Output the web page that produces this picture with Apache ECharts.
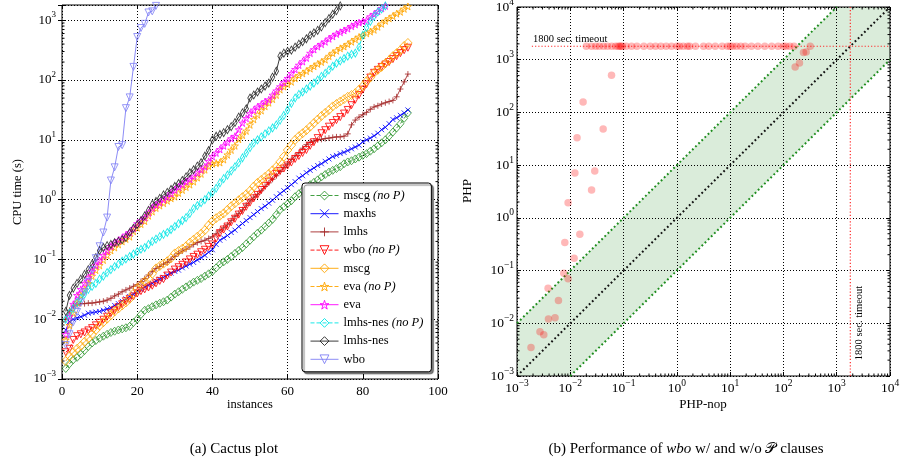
<!DOCTYPE html>
<html>
<head>
<meta charset="utf-8">
<script src="https://cdn.jsdelivr.net/npm/echarts@6/dist/echarts.min.js"></script>
<style>
  html, body { margin: 0; padding: 0; background: #fff; }
  #main { width: 900px; height: 463px; }
</style>
</head>
<body>
<div id="main"></div>
<script>
// ---------- (a) cactus plot: CPU time (s) of each solved instance, sorted ----------
const solverNames = ['mscg (no P)', 'maxhs', 'lmhs', 'wbo (no P)', 'mscg',
                     'eva (no P)', 'eva', 'lmhs-nes (no P)', 'lmhs-nes', 'wbo'];

const mscgNoP = [0.0015,0.0018,0.0021,0.0023,0.0026,0.0030,0.0035,0.0040,0.0044,0.0048,
  0.0052,0.0056,0.0060,0.0063,0.0066,0.0069,0.0072,0.0076,0.0088,0.0100,
  0.0120,0.0141,0.0150,0.0162,0.0174,0.0185,0.0196,0.0209,0.0234,0.0263,
  0.0288,0.0316,0.0347,0.0380,0.0417,0.0447,0.0479,0.0525,0.0575,0.0631,
  0.0724,0.0832,0.0912,0.100,0.112,0.126,0.141,0.158,0.182,0.209,
  0.240,0.275,0.309,0.355,0.407,0.468,0.562,0.676,0.759,0.851,
  0.955,1.12,1.26,1.41,1.58,1.78,1.95,2.14,2.40,2.63,
  2.88,3.09,3.31,3.55,3.98,4.27,4.47,4.79,5.13,5.50,
  5.89,6.46,7.08,7.94,8.91,10.0,11.5,13.5,15.8,18.6,
  22.9,28.2];

const maxhs = [0.0066,0.0091,0.0100,0.0105,0.0110,0.0117,0.0126,0.0129,0.0132,0.0135,
  0.0141,0.0148,0.0155,0.0170,0.0182,0.0200,0.0219,0.0240,0.0263,0.0288,
  0.0316,0.0347,0.0372,0.0398,0.0437,0.0468,0.0501,0.0550,0.0589,0.0631,
  0.0661,0.0724,0.0776,0.0832,0.0891,0.0977,0.107,0.117,0.132,0.145,
  0.178,0.209,0.229,0.251,0.282,0.309,0.355,0.398,0.447,0.501,
  0.562,0.631,0.708,0.776,0.871,0.977,1.12,1.26,1.41,1.58,
  1.78,2.00,2.29,2.51,2.82,3.09,3.39,3.72,3.98,4.37,
  4.79,5.25,5.50,5.89,6.17,6.61,7.08,7.59,8.13,9.33,
  10.0,10.7,11.7,12.9,14.8,16.2,18.6,21.9,23.4,25.7,
  28.2,31.6];

const lmhs = [0.0100,0.0141,0.0166,0.0174,0.0182,0.0182,0.0186,0.0186,0.0191,0.0195,
  0.0200,0.0209,0.0224,0.0245,0.0263,0.0288,0.0309,0.0331,0.0355,0.0380,
  0.0427,0.0479,0.0550,0.0631,0.0708,0.0759,0.0832,0.0891,0.100,0.112,
  0.126,0.138,0.148,0.162,0.178,0.191,0.200,0.209,0.224,0.240,
  0.269,0.302,0.339,0.380,0.447,0.525,0.589,0.676,0.813,0.955,
  1.10,1.23,1.41,1.66,1.91,2.19,2.51,2.95,3.47,3.98,
  4.68,5.37,6.03,7.24,8.32,9.12,9.55,10.0,10.2,10.5,
  10.7,11.0,11.2,11.2,11.5,12.6,17.8,21.4,24.0,26.3,
  28.8,32.4,35.5,37.2,39.8,41.7,43.7,45.7,52.5,70.8,
  93.3,126];

const wboNoP = [0.0028,0.0032,0.0045,0.0052,0.0056,0.0060,0.0065,0.0071,0.0079,0.0087,
  0.0098,0.0110,0.0126,0.0141,0.0158,0.0178,0.0200,0.0219,0.0240,0.0269,
  0.0295,0.0316,0.0339,0.0363,0.0398,0.0437,0.0468,0.0537,0.0603,0.0676,
  0.0741,0.0813,0.0891,0.100,0.110,0.120,0.132,0.145,0.162,0.178,
  0.224,0.275,0.316,0.355,0.417,0.479,0.562,0.646,0.759,0.891,
  1.05,1.20,1.45,1.70,2.00,2.34,2.69,3.02,3.31,3.72,
  4.17,4.79,5.37,6.03,6.76,7.94,9.12,10.7,12.9,14.5,
  16.6,19.1,21.4,24.0,27.5,31.6,38.0,46.8,56.2,69.2,
  85.1,110,132,148,166,182,200,224,251,282,
  316,347];

const mscg = [0.0020,0.0024,0.0028,0.0032,0.0036,0.0042,0.0048,0.0056,0.0066,0.0078,
  0.0089,0.0102,0.0117,0.0135,0.0151,0.0170,0.0191,0.0219,0.0269,0.0331,
  0.0372,0.0427,0.0479,0.0575,0.0708,0.0776,0.0851,0.0933,0.105,0.126,
  0.138,0.151,0.166,0.191,0.214,0.240,0.269,0.309,0.372,0.437,
  0.490,0.537,0.589,0.676,0.776,0.871,0.977,1.10,1.23,1.41,
  1.66,1.91,2.14,2.40,2.69,3.09,3.55,4.27,5.25,6.76,
  8.13,10.0,11.5,12.9,14.5,16.6,19.1,21.9,25.1,28.2,
  31.6,36.3,39.8,43.7,47.9,52.5,56.2,60.3,69.2,79.4,
  95.5,110,132,148,166,191,214,251,282,316,
  372,417];

const evaNoP = [0.0045,0.0079,0.0126,0.0191,0.0251,0.0316,0.0398,0.0525,0.0661,0.0794,
  0.0977,0.117,0.141,0.158,0.178,0.200,0.219,0.240,0.295,0.339,
  0.389,0.437,0.537,0.631,0.724,0.794,0.871,0.955,1.05,1.12,
  1.29,1.45,1.62,1.78,2.00,2.34,2.69,3.16,3.63,3.98,
  4.07,4.17,4.68,5.62,6.76,7.94,10.2,12.0,14.1,17.8,
  21.9,26.3,30.9,36.3,41.7,47.9,56.2,69.2,77.6,85.1,
  93.3,107,120,129,141,155,170,186,200,219,
  251,282,309,339,363,398,437,479,525,562,
  603,646,692,776,871,977,1070,1175,1290,1380,
  1550,1700];

const eva = [0.0056,0.0112,0.0178,0.0251,0.0316,0.0398,0.0501,0.0631,0.0794,0.0955,
  0.117,0.141,0.166,0.191,0.209,0.229,0.257,0.282,0.331,0.398,
  0.447,0.501,0.603,0.724,0.813,0.891,1.00,1.10,1.26,1.45,
  1.62,1.78,2.00,2.19,2.45,2.82,3.16,3.55,4.37,5.25,
  6.03,6.92,7.94,9.12,10.5,11.5,14.8,19.1,22.9,27.5,
  31.6,35.5,38.9,43.7,46.8,56.2,66.1,77.6,91.2,107,
  129,151,178,204,234,282,324,363,398,437,
  490,537,589,631,676,724,794,851,912,955,
  1000,1150,1260,1410,1580,1740];

const lmhsNesNoP = [0.0100,0.0126,0.0151,0.0191,0.0224,0.0263,0.0316,0.0355,0.0398,0.0468,
  0.0525,0.0603,0.0676,0.0759,0.0832,0.0933,0.102,0.112,0.123,0.135,
  0.148,0.158,0.178,0.200,0.219,0.240,0.263,0.282,0.316,0.355,
  0.398,0.447,0.501,0.589,0.708,0.794,0.891,1.00,1.15,1.32,
  1.55,1.91,2.24,2.57,3.02,3.55,4.17,5.01,6.03,7.41,
  8.91,10.0,11.2,12.6,14.1,15.8,17.8,21.4,25.7,31.6,
  40.7,50.1,57.5,63.1,70.8,79.4,89.1,100,115,129,
  148,170,191,209,229,251,269,282,355,562,
  759,955,1170,1380,1550,1740];

const lmhsNes = [0.0135,0.0251,0.0331,0.0398,0.0468,0.0562,0.0676,0.0832,0.107,0.141,
  0.158,0.170,0.178,0.191,0.200,0.214,0.234,0.282,0.331,0.380,
  0.447,0.537,0.661,0.832,0.933,1.05,1.20,1.32,1.48,1.66,
  1.86,2.09,2.40,2.82,3.16,3.63,4.17,5.37,6.61,10.0,
  11.5,12.3,13.2,14.8,16.6,19.5,24.0,28.2,33.1,50.1,
  56.2,63.1,70.8,79.4,89.1,112,141,251,282,302,
  316,355,398,437,490,562,617,676,776,912,
  1070,1260,1450,1740];

const wbo = [0.0037,0.0056,0.0089,0.0132,0.0191,0.0282,0.0417,0.0661,0.105,0.166,
  0.282,0.501,2.09,3.47,7.59,8.13,33.9,51.3,166,525,
  741,871,1350,1410,1740];

const cactusValues = [mscgNoP, maxhs, lmhs, wboNoP, mscg, evaNoP, eva, lmhsNesNoP, lmhsNes, wbo];

// axis ranges of the cactus plot
const instancesRange = [0, 100];
const cpuTimeRange = [0.001, 1800];

// ---------- (b) PHP vs PHP-nop scatter ----------
const phpNop = [0.0594, 0.0174, 0.0414, 0.0134, 0.0122, 0.0288, 0.0251, 0.0091, 0.0151, 0.00789,
  0.0118, 0.00755, 0.0091, 0.00383, 0.0060, 0.00389, 0.00517, 0.0027, 0.00318, 0.00183,
  238, 267, 200, 166];
const php = [508, 158, 48.3, 33.0, 7.08, 7.73, 3.37, 1.94, 0.489, 0.339,
  0.172, 0.089, 0.070, 0.0464, 0.0271, 0.0120, 0.0127, 0.0069, 0.00605, 0.00348,
  1368, 1406, 870, 731];
// instances where PHP hits the time limit
const timeoutNop = [0.020, 0.025, 0.030, 0.035, 0.042, 0.050, 0.060, 0.071, 0.079, 0.085,
  0.089, 0.095, 0.112, 0.141, 0.178, 0.240, 0.316, 0.398, 0.501, 0.631,
  0.794, 1.00, 1.12, 1.32, 1.58, 1.74, 2.24, 3.16, 3.98, 5.25,
  7.08, 8.91, 10.0, 11.2, 13.2, 15.8, 19.1, 25.1, 33.1, 44.7,
  60.3, 79.4, 100, 112, 132, 158, 318];
const timeoutSec = 1800;
const timeoutLineStart = 0.0019;
const timeoutLabelAt = 0.002;
const phpRange = [0.001, 10000];
const bandFactor = 10;

// ---------- styling ----------
const SERIF = '"Liberation Serif", "DejaVu Serif", "Times New Roman", serif';
const SYM = {
  diamond: 'path://M0,-1L1,0L0,1L-1,0Z',
  thinDiamond: 'path://M0,-1L0.6,0L0,1L-0.6,0Z',
  cross: 'path://M-1,-1L1,1M-1,1L1,-1',
  plus: 'path://M-1,0L1,0M0,-1L0,1',
  triDown: 'path://M-1,-0.85L1,-0.85L0,0.9Z',
  star: 'path://M0,-1L0.223,-0.307L0.951,-0.309L0.361,0.117L0.588,0.809L0,0.38L-0.588,0.809L-0.361,0.117L-0.951,-0.309L-0.223,-0.307Z'
};
const solverStyles = [
  { color: '#2e962e', dashed: true,  symbol: SYM.diamond,     size: [7, 8] },
  { color: '#0000ff', dashed: false, symbol: SYM.cross,       size: [5, 5] },
  { color: '#a52a2a', dashed: false, symbol: SYM.plus,        size: [6, 6] },
  { color: '#ff0000', dashed: true,  symbol: SYM.triDown,     size: [7, 7] },
  { color: '#ffa500', dashed: false, symbol: SYM.diamond,     size: [8.5, 9] },
  { color: '#ffa500', dashed: true,  symbol: SYM.star,        size: [7, 7] },
  { color: '#ff00ff', dashed: false, symbol: SYM.star,        size: [7, 7] },
  { color: '#00e5e5', dashed: true,  symbol: SYM.thinDiamond, size: [4.5, 8] },
  { color: '#262626', dashed: false, symbol: SYM.thinDiamond, size: [4.5, 8] },
  { color: '#7f7ff5', dashed: false, symbol: SYM.triDown,     size: [7, 7] }
];
const GRID_DOTS = { color: '#000', width: 1, type: [1, 2] };

function powLabel(v) {
  const e = Math.log10(v);
  const r = Math.round(e);
  if (Math.abs(e - r) > 1e-6) return '';
  return '{b|10}{s|' + (r < 0 ? '\u2212' + (-r) : r) + '}';
}
function powRich(base, sup) {
  return {
    b: { fontFamily: SERIF, fontSize: base, lineHeight: 20, color: '#000' },
    s: { fontFamily: SERIF, fontSize: sup, lineHeight: 10, verticalAlign: 'top', color: '#000' }
  };
}
function minorLogValues(lo, hi) {
  const out = [];
  for (let n = Math.floor(Math.log10(lo)); n <= Math.ceil(Math.log10(hi)); n++) {
    for (let k = 2; k <= 9; k++) {
      const v = k * Math.pow(10, n);
      if (v > lo && v < hi) out.push(v);
    }
  }
  return out;
}
// inward minor ticks on both sides of a log axis
function minorTickSeries(xi, yi, dir, values, otherRange) {
  const L = 2.5;
  return {
    type: 'custom', xAxisIndex: xi, yAxisIndex: yi, silent: true, z: 6, clip: false,
    data: values.map(v => dir === 'x' ? [v, otherRange[0]] : [otherRange[0], v]),
    renderItem(params, api) {
      const v = api.value(dir === 'x' ? 0 : 1);
      const a = api.coord(dir === 'x' ? [v, otherRange[0]] : [otherRange[0], v]);
      const b = api.coord(dir === 'x' ? [v, otherRange[1]] : [otherRange[1], v]);
      const segs = dir === 'x'
        ? [{ x1: a[0], y1: a[1], x2: a[0], y2: a[1] - L }, { x1: b[0], y1: b[1], x2: b[0], y2: b[1] + L }]
        : [{ x1: a[0], y1: a[1], x2: a[0] + L, y2: a[1] }, { x1: b[0], y1: b[1], x2: b[0] - L, y2: b[1] }];
      return { type: 'group', children: segs.map(s => ({ type: 'line', shape: s, style: { stroke: '#000', lineWidth: 1 } })) };
    }
  };
}

const tickIn = { show: true, inside: true, length: 4, lineStyle: { color: '#000', width: 1 } };
const noLabel = { show: false };

const cactusSeries = solverNames.map((name, k) => {
  const st = solverStyles[k];
  return {
    name, type: 'line', xAxisIndex: 0, yAxisIndex: 0,
    data: cactusValues[k].map((v, j) => [j + 1, v]),
    symbol: st.symbol, symbolSize: st.size, showSymbol: true, showAllSymbol: true,
    lineStyle: { color: st.color, width: 1, type: st.dashed ? [4, 2] : 'solid', opacity: 0.9 },
    itemStyle: { color: 'rgba(0,0,0,0)', borderColor: st.color, borderWidth: 0.9, opacity: 0.9 },
    emphasis: { disabled: true }, z: 3
  };
});

const legendData = solverNames.map((name, k) => {
  const st = solverStyles[k];
  return {
    name,
    itemStyle: { color: 'rgba(0,0,0,0)', borderColor: st.color, borderWidth: 1 },
    lineStyle: { color: st.color, width: 1, type: st.dashed ? [4, 2] : 'solid' }
  };
});

const lo = phpRange[0], hi = phpRange[1];
const bandPolygon = [[lo, lo], [lo * bandFactor, lo], [hi, hi / bandFactor], [hi, hi], [hi / bandFactor, hi], [lo, lo * bandFactor]];

const chart = echarts.init(document.getElementById('main'), null, { renderer: 'canvas', width: 900, height: 463 });

chart.setOption({
  animation: false,
  backgroundColor: '#fff',
  textStyle: { fontFamily: SERIF },
  grid: [
    { left: 62, top: 5, width: 376, height: 374, show: true, borderColor: '#000', borderWidth: 1, backgroundColor: 'transparent', outerBoundsMode: 'none', containLabel: false },
    { left: 517, top: 7, width: 373, height: 369, show: true, borderColor: '#000', borderWidth: 1, backgroundColor: 'transparent', outerBoundsMode: 'none', containLabel: false }
  ],
  xAxis: [
    { gridIndex: 0, type: 'value', position: 'bottom', min: instancesRange[0], max: instancesRange[1], interval: 20,
      axisLine: { show: false }, axisTick: tickIn, splitLine: { show: true, lineStyle: GRID_DOTS },
      axisLabel: { fontFamily: SERIF, fontSize: 13, color: '#000', margin: 6 } },
    { gridIndex: 0, type: 'value', position: 'top', min: instancesRange[0], max: instancesRange[1], interval: 20,
      axisLine: { show: false }, axisTick: tickIn, splitLine: { show: false }, axisLabel: noLabel },
    { gridIndex: 1, type: 'log', logBase: 10, position: 'bottom', min: phpRange[0], max: phpRange[1],
      axisLine: { show: false }, axisTick: tickIn, splitLine: { show: true, lineStyle: GRID_DOTS },
      axisLabel: { formatter: powLabel, rich: powRich(13.5, 9.5), margin: 2 } },
    { gridIndex: 1, type: 'log', logBase: 10, position: 'top', min: phpRange[0], max: phpRange[1],
      axisLine: { show: false }, axisTick: tickIn, splitLine: { show: false }, axisLabel: noLabel }
  ],
  yAxis: [
    { gridIndex: 0, type: 'log', logBase: 10, position: 'left', min: cpuTimeRange[0], max: cpuTimeRange[1],
      axisLine: { show: false }, axisTick: tickIn, splitLine: { show: true, lineStyle: GRID_DOTS },
      axisLabel: { formatter: powLabel, rich: powRich(13, 9), margin: 6 } },
    { gridIndex: 0, type: 'log', logBase: 10, position: 'right', min: cpuTimeRange[0], max: cpuTimeRange[1],
      axisLine: { show: false }, axisTick: tickIn, splitLine: { show: false }, axisLabel: noLabel },
    { gridIndex: 1, type: 'log', logBase: 10, position: 'left', min: phpRange[0], max: phpRange[1],
      axisLine: { show: false }, axisTick: tickIn, splitLine: { show: true, lineStyle: GRID_DOTS },
      axisLabel: { formatter: powLabel, rich: powRich(13.5, 9.5), margin: 3 } },
    { gridIndex: 1, type: 'log', logBase: 10, position: 'right', min: phpRange[0], max: phpRange[1],
      axisLine: { show: false }, axisTick: tickIn, splitLine: { show: false }, axisLabel: noLabel }
  ],
  legend: {
    data: legendData,
    orient: 'vertical', left: 302, top: 183,
    padding: [6, 8, 6, 8], itemGap: 5.2, itemWidth: 28, itemHeight: 11,
    selectedMode: false,
    backgroundColor: '#fff', borderColor: '#000', borderWidth: 1, borderRadius: 3,
    shadowColor: 'rgba(0,0,0,0.5)', shadowBlur: 1, shadowOffsetX: 2, shadowOffsetY: 2,
    formatter: name => name.replace('(no P)', '{it|(no P)}'),
    textStyle: { fontFamily: SERIF, fontSize: 12.5, color: '#000',
      rich: { it: { fontFamily: SERIF, fontSize: 12.5, fontStyle: 'italic', color: '#000' } } }
  },
  series: [
    ...cactusSeries,
    minorTickSeries(0, 0, 'y', minorLogValues(cpuTimeRange[0], cpuTimeRange[1]), instancesRange),

    // (b) green band between y = x/10 and y = 10x
    { type: 'custom', xAxisIndex: 2, yAxisIndex: 2, silent: true, z: -1,
      data: [0],
      renderItem(params, api) {
        return { type: 'polygon', shape: { points: bandPolygon.map(p => api.coord(p)) },
                 style: { fill: 'rgba(70,160,70,0.2)' } };
      } },
    { type: 'line', xAxisIndex: 2, yAxisIndex: 2, symbol: 'none', silent: true, z: 3,
      data: [[lo, lo * bandFactor], [hi / bandFactor, hi]],
      lineStyle: { color: '#1d8c1d', width: 2, type: [1.8, 2.6] } },
    { type: 'line', xAxisIndex: 2, yAxisIndex: 2, symbol: 'none', silent: true, z: 3,
      data: [[lo * bandFactor, lo], [hi, hi / bandFactor]],
      lineStyle: { color: '#1d8c1d', width: 2, type: [1.8, 2.6] } },
    { type: 'line', xAxisIndex: 2, yAxisIndex: 2, symbol: 'none', silent: true, z: 3,
      data: [[lo, lo], [hi, hi]],
      lineStyle: { color: '#111', width: 2, type: [1.8, 2.6] } },
    // time limit
    { type: 'line', xAxisIndex: 2, yAxisIndex: 2, symbol: 'none', silent: true, z: 3,
      data: [[timeoutLineStart, timeoutSec], [hi, timeoutSec]],
      lineStyle: { color: '#ff2a2a', width: 1.2, type: [1.2, 2] } },
    { type: 'line', xAxisIndex: 2, yAxisIndex: 2, symbol: 'none', silent: true, z: 3,
      data: [[timeoutSec, lo], [timeoutSec, hi]],
      lineStyle: { color: '#ff2a2a', width: 1.2, type: [1.2, 2] } },
    { type: 'scatter', xAxisIndex: 2, yAxisIndex: 2, silent: true, z: 4,
      data: timeoutNop.map(x => [x, timeoutSec]),
      symbol: 'circle', symbolSize: 7.5, itemStyle: { color: '#ff0000', opacity: 0.28 } },
    { type: 'scatter', xAxisIndex: 2, yAxisIndex: 2, silent: true, z: 4,
      data: phpNop.map((x, k) => [x, php[k]]),
      symbol: 'circle', symbolSize: 7.5, itemStyle: { color: '#ff0000', opacity: 0.28 } },
    minorTickSeries(2, 2, 'x', minorLogValues(phpRange[0], phpRange[1]), phpRange),
    minorTickSeries(2, 2, 'y', minorLogValues(phpRange[0], phpRange[1]), phpRange)
  ]
});

// text annotations, anchored through the axes of panel (b)
const hLabel = chart.convertToPixel({ xAxisIndex: 2, yAxisIndex: 2 }, [timeoutLabelAt, timeoutSec]);
const vLabel = chart.convertToPixel({ xAxisIndex: 2, yAxisIndex: 2 }, [timeoutSec, timeoutLabelAt]);
const annFont = '10.5px ' + SERIF;
const titleFont = '12.5px ' + SERIF;

chart.setOption({
  graphic: [
    { type: 'text', x: hLabel[0], y: hLabel[1] - 2, silent: true,
      style: { text: '1800 sec. timeout', font: annFont, fill: '#000', align: 'left', verticalAlign: 'bottom' } },
    { type: 'text', x: vLabel[0] + 3, y: vLabel[1], rotation: Math.PI / 2, silent: true,
      style: { text: '1800 sec. timeout', font: annFont, fill: '#000', align: 'left', verticalAlign: 'top' } },
    { type: 'text', x: 18, y: 192, rotation: Math.PI / 2, silent: true,
      style: { text: 'CPU time (s)', font: titleFont, fill: '#000', align: 'center', verticalAlign: 'middle' } },
    { type: 'text', x: 250, y: 405, silent: true,
      style: { text: 'instances', font: titleFont, fill: '#000', align: 'center', verticalAlign: 'middle' } },
    { type: 'text', x: 468, y: 191, rotation: Math.PI / 2, silent: true,
      style: { text: 'PHP', font: '13px ' + SERIF, fill: '#000', align: 'center', verticalAlign: 'middle' } },
    { type: 'text', x: 703, y: 405, silent: true,
      style: { text: 'PHP-nop', font: '13px ' + SERIF, fill: '#000', align: 'center', verticalAlign: 'middle' } },
    { type: 'text', x: 234, y: 449, silent: true,
      style: { text: '(a) Cactus plot', font: '15px ' + SERIF, fill: '#000', align: 'center', verticalAlign: 'middle' } },
    { type: 'text', x: 686, y: 449, silent: true,
      style: { text: '(b) Performance of {i|wbo} w/ and w/o {p|\u{1D4AB}} clauses',
               fontFamily: SERIF, fontSize: 15, fill: '#000', align: 'center', verticalAlign: 'middle',
               rich: { i: { fontFamily: SERIF, fontSize: 15, fontStyle: 'italic', fill: '#000' },
                       p: { fontFamily: '"DejaVu Sans", "DejaVu Serif", serif', fontSize: 15, fill: '#000' } } } }
  ]
});
</script>
</body>
</html>
